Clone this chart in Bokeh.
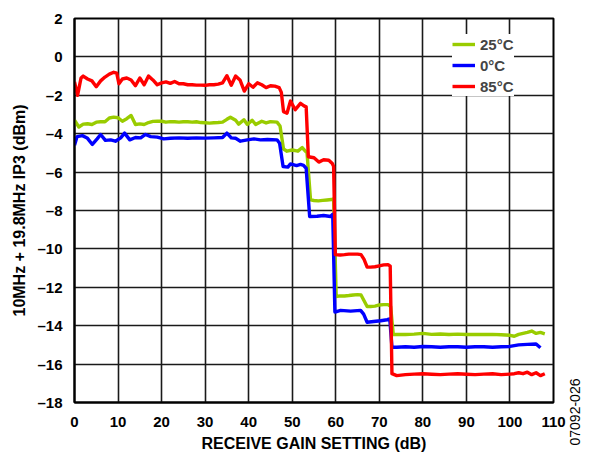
import math
from bokeh.plotting import figure
from bokeh.layouts import row
from bokeh.models import FixedTicker, Legend, LegendItem, Title
from bokeh.embed import file_html
from bokeh.resources import INLINE

# ---- data ----
x_ticks = [0, 10, 20, 30, 40, 50, 60, 70, 80, 90, 100, 110]
y_ticks = [-18, -16, -14, -12, -10, -8, -6, -4, -2, 0, 2]

gain_25c = [0, 1, 2, 3, 4, 5, 6, 7, 8, 9, 10, 11, 12, 13, 14, 15, 16, 17, 18, 19, 20,
            21, 22, 23, 24, 25, 26, 27, 28, 29, 30, 31, 32, 33, 34, 35, 35.8, 37, 37.7,
            38.9, 39.7, 40.8, 41.6, 43, 44, 45, 46.5, 47.2, 48, 48.8, 50, 51.3, 52.3,
            52.8, 53.4, 54.2, 55, 56, 57, 58, 59, 59.5, 60.1, 61, 62, 63, 64, 65, 65.8,
            66.5, 67.2, 68, 69, 70, 71, 72, 72.6, 73.2, 74, 76, 78, 80, 82, 84, 86, 88,
            90, 92, 94, 96, 98, 100, 101, 102, 103, 104, 105, 106, 107, 108]
ip3_25c = [-3.3, -3.65, -3.5, -3.48, -3.52, -3.4, -3.38, -3.38, -3.18, -3.14, -3.17,
           -3.35, -3.22, -3.05, -3.52, -3.49, -3.52, -3.42, -3.36, -3.35, -3.35, -3.4,
           -3.37, -3.38, -3.4, -3.38, -3.38, -3.4, -3.38, -3.42, -3.43, -3.45, -3.43,
           -3.42, -3.4, -3.25, -3.14, -3.3, -3.5, -3.27, -3.52, -3.3, -3.52, -3.35,
           -3.44, -3.37, -3.4, -3.6, -4.8, -4.91, -4.85, -4.91, -4.72, -4.85, -5.0,
           -7.45, -7.48, -7.5, -7.47, -7.45, -7.43, -7.4, -12.48, -12.45, -12.45,
           -12.43, -12.4, -12.38, -12.4, -12.7, -13.0, -13.0, -12.98, -12.92, -12.9,
           -12.9, -13.0, -14.46, -14.45, -14.46, -14.44, -14.4, -14.45, -14.43, -14.46,
           -14.44, -14.46, -14.45, -14.46, -14.45, -14.47, -14.5, -14.55, -14.45,
           -14.4, -14.35, -14.28, -14.4, -14.35, -14.42]

gain_0c = [0, 0.6, 1.8, 2.9, 4.1, 5.2, 6, 7.1, 8.3, 9.4, 10.6, 11.5, 12.7, 14, 15.2,
           16.3, 17.5, 19, 20.5, 22, 24, 26, 28, 30, 32, 34, 35, 36, 37, 38.1, 39.7,
           41.2, 42.7, 44.3, 46.5, 47.1, 47.9, 49, 49.6, 51, 51.9, 52.6, 53.2, 54,
           55.7, 57.2, 58.8, 59.3, 59.8, 61.1, 63.4, 65.7, 66.4, 67.2, 68.7, 70.3,
           71.8, 72.4, 72.9, 74, 76, 78, 80, 82, 84, 86, 88, 90, 92, 94, 96, 98, 100,
           102, 104, 106, 107, 108]
ip3_0c = [-4.6, -4.15, -4.1, -4.22, -4.56, -4.27, -4.04, -4.35, -4.32, -4.39, -4.22,
          -3.97, -4.32, -4.2, -4.22, -4.04, -4.15, -4.18, -4.27, -4.24, -4.22, -4.24,
          -4.22, -4.23, -4.22, -4.2, -3.97, -4.22, -4.24, -4.39, -4.32, -4.27, -4.32,
          -4.3, -4.32, -4.5, -5.71, -5.74, -5.57, -5.66, -5.6, -5.65, -5.8, -8.31,
          -8.3, -8.26, -8.31, -8.2, -13.29, -13.2, -13.24, -13.2, -13.4, -13.82,
          -13.78, -13.74, -13.69, -13.65, -15.12, -15.12, -15.1, -15.12, -15.08,
          -15.1, -15.12, -15.1, -15.1, -15.12, -15.1, -15.1, -15.12, -15.1, -15.08,
          -15.0, -14.97, -14.95, -15.15]

gain_85c = [0, 0.7, 1.5, 2, 3, 4, 5, 6, 7, 8, 9, 9.7, 10.2, 11, 12, 13, 14, 15, 16, 17,
            18, 19, 20, 21, 22, 23, 24, 25, 26, 27, 28, 29, 30, 31, 32, 33, 34, 35, 36,
            37, 38, 39, 40, 41, 42, 43, 44, 45, 46, 47, 47.5, 48, 48.8, 49.6, 50.7,
            51.9, 52.7, 53.2, 53.7, 55, 56.1, 57.2, 58.4, 59.2, 59.5, 59.9, 61, 62, 63,
            64, 65, 65.8, 66.5, 67.2, 68, 69, 70, 71, 72, 72.5, 72.9, 74, 76, 78, 80, 82,
            84, 86, 88, 90, 92, 94, 96, 98, 100, 101, 102, 103, 104, 105, 106, 107, 108]
ip3_85c = [-1.3, -2.0, -1.1, -1.0, -1.15, -1.25, -1.55, -1.25, -1.05, -0.9, -0.8,
           -0.85, -1.4, -1.15, -1.1, -1.2, -1.5, -1.1, -1.45, -1.0, -1.2, -1.45, -1.35,
           -1.3, -1.38, -1.28, -1.4, -1.4, -1.45, -1.45, -1.47, -1.47, -1.48, -1.45,
           -1.45, -1.42, -1.35, -0.98, -1.48, -1.0, -1.2, -1.78, -1.4, -1.58, -1.35,
           -1.45, -1.6, -1.5, -1.52, -1.6, -1.85, -2.85, -2.93, -2.3, -2.75, -2.42,
           -2.55, -2.6, -5.2, -5.25, -5.48, -5.36, -5.38, -5.55, -5.7, -10.3, -10.32,
           -10.3, -10.27, -10.27, -10.27, -10.3, -10.55, -10.95, -10.95, -10.93,
           -10.88, -10.83, -10.82, -10.9, -16.5, -16.6, -16.55, -16.52, -16.5, -16.53,
           -16.55, -16.52, -16.5, -16.53, -16.55, -16.52, -16.5, -16.55, -16.52, -16.5,
           -16.45, -16.5, -16.42, -16.55, -16.45, -16.6, -16.5]

series_names = ["25°C", "0°C", "85°C"]
series_colors = ["#99cc00", "#0000ff", "#ff0000"]
figure_id = "07092-026"

FONT = "Liberation Sans"

p = figure(width=567, height=452, x_range=(0, 110), y_range=(-18, 2),
           output_backend="svg", toolbar_location=None,
           min_border_left=74, min_border_right=14, min_border_top=18,
           min_border_bottom=50)
p.frame_width = 479
p.frame_height = 384

p.outline_line_color = "black"
p.outline_line_width = 2
p.outline_line_alpha = 1

for ax in (p.xaxis[0], p.yaxis[0]):
    ax.axis_line_color = "black"
    ax.axis_line_width = 2
    ax.major_tick_line_color = None
    ax.minor_tick_line_color = None
    ax.major_label_text_font = FONT
    ax.major_label_text_font_style = "bold"
    ax.major_label_text_font_size = "15px"
    ax.major_label_text_color = "black"
    ax.axis_label_text_font = FONT
    ax.axis_label_text_font_style = "bold"
    ax.axis_label_text_font_size = "16px"
    ax.axis_label_text_color = "black"

p.xaxis.ticker = FixedTicker(ticks=x_ticks)
p.yaxis.ticker = FixedTicker(ticks=y_ticks)
p.yaxis.major_label_overrides = {t: (("\u2013" + str(abs(t))) if t < 0 else str(t)) for t in y_ticks}
p.xaxis.axis_label = "RECEIVE GAIN SETTING (dB)"
p.yaxis.axis_label = "10MHz + 19.8MHz IP3 (dBm)"
p.xaxis.major_label_standoff = 8
p.yaxis.major_label_standoff = 6
p.xaxis.axis_label_standoff = 5
p.yaxis.axis_label_standoff = 6

for g in (p.xgrid[0], p.ygrid[0]):
    g.grid_line_color = "#1a1a1a"
    g.grid_line_width = 1.6

xs = [gain_25c, gain_0c, gain_85c]
ys = [ip3_25c, ip3_0c, ip3_85c]
renderers = []
for xv, yv, c in zip(xs, ys, series_colors):
    r = p.line(xv, yv, line_color=c, line_width=3.4, line_join="round")
    renderers.append(r)

legend = Legend(items=[LegendItem(label=n, renderers=[r]) for n, r in zip(series_names, renderers)],
                location=(378, 306))
legend.background_fill_color = "white"
legend.background_fill_alpha = 1
legend.border_line_color = None
legend.label_text_font = FONT
legend.label_text_font_style = "bold"
legend.label_text_font_size = "15px"
legend.glyph_width = 23
legend.glyph_height = 20
legend.label_height = 20
legend.spacing = 1
legend.padding = 6
legend.label_standoff = 5
legend.margin = 0
p.add_layout(legend, "center")

# narrow side strip carrying the rotated figure number (as a vertical title)
side = figure(width=22, height=452, x_axis_type=None, y_axis_type=None,
              output_backend="svg", toolbar_location=None, min_border=0)
side.outline_line_color = None
side.add_layout(Title(text=figure_id, align="left", vertical_align="middle",
                      offset=-45, standoff=3, text_font=FONT,
                      text_font_style="normal", text_font_size="14px",
                      text_color="black"), "left")

layout = row(p, side, spacing=0)
open("out.html", "w").write(file_html(layout, INLINE))
